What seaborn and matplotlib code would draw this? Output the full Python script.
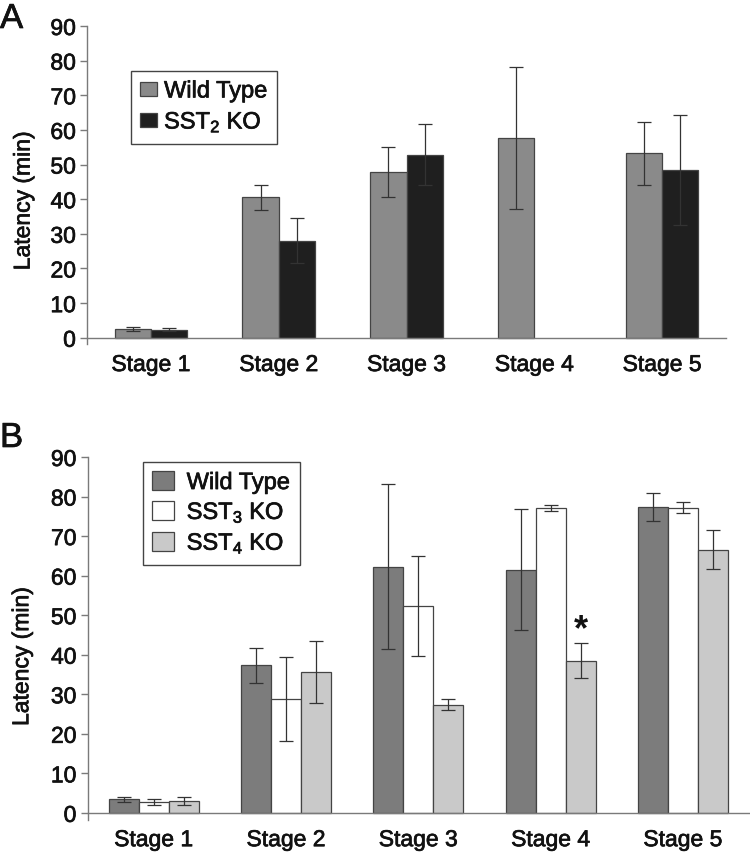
import numpy as np
import pandas as pd
import matplotlib
matplotlib.use("Agg")
import matplotlib.pyplot as plt
import matplotlib.patheffects as pe
import seaborn as sns

# ---------------- data ----------------
stages = ["Stage 1", "Stage 2", "Stage 3", "Stage 4", "Stage 5"]

# Panel A
a_groups = ["Wild Type", "SST$_2$ KO"]
a_wt_mean = [2.6, 40.5, 47.9, 57.8, 53.2]
a_wt_err = [0.6, 3.5, 7.2, 20.5, 9.2]
a_ko_mean = [2.3, 28.0, 52.8, np.nan, 48.4]
a_ko_err = [0.4, 6.5, 8.8, np.nan, 15.9]

# Panel B
b_groups = ["Wild Type", "SST$_3$ KO", "SST$_4$ KO"]
b_wt_mean = [3.4, 37.3, 62.3, 61.5, 77.3]
b_wt_err = [0.65, 4.4, 20.9, 15.3, 3.5]
b_sst3_mean = [2.7, 28.8, 52.3, 77.1, 77.2]
b_sst3_err = [0.7, 10.5, 12.6, 0.85, 1.45]
b_sst4_mean = [3.0, 35.6, 27.3, 38.5, 66.6]
b_sst4_err = [1.05, 7.75, 1.4, 4.45, 4.85]
b_significant = [False, False, False, True, False]  # SST4 KO vs WT

y_ticks = [0, 10, 20, 30, 40, 50, 60, 70, 80, 90]
y_label = "Latency (min)"

# ---------------- style ----------------
sns.set_style("white")
plt.rcParams["font.family"] = ["Liberation Sans", "DejaVu Sans"]
plt.rcParams["mathtext.fontset"] = "custom"
plt.rcParams["mathtext.rm"] = "Liberation Sans"
plt.rcParams["mathtext.it"] = "Liberation Sans"
plt.rcParams["mathtext.default"] = "regular"

fig = plt.figure(figsize=(7.5, 8.53), dpi=100)
W, H = 750, 853


def ax_rect(left, right, top, bottom):
    return [left / W, 1 - bottom / H, (right - left) / W, (bottom - top) / H]


axA = fig.add_axes(ax_rect(87, 726, 27, 345))
axB = fig.add_axes(ax_rect(87.5, 749, 458, 821))

edge = "#444444"
axis_col = "#7a7a7a"
txt_col = "#111111"
heavy = [pe.withStroke(linewidth=0.5, foreground=txt_col)]


def draw_panel(ax, groups, means, errs, colors, width):
    rows = []
    for g, m in zip(groups, means):
        for s, v in zip(stages, m):
            rows.append({"stage": s, "group": g, "value": v})
    df = pd.DataFrame(rows)
    sns.barplot(data=df, x="stage", y="value", hue="group", order=stages,
                hue_order=groups, palette=colors, errorbar=None, width=width,
                gap=0, edgecolor=edge, linewidth=0.9, ax=ax, legend=True)
    centers = []
    for cont, m, e in zip(ax.containers, means, errs):
        xs, ys, es = [], [], []
        cmap = {}
        for p in cont.patches:
            xc = p.get_x() + p.get_width() / 2
            i = int(round(xc))
            cmap[i] = xc
            if not np.isnan(m[i]):
                xs.append(xc)
                ys.append(m[i])
                es.append(e[i])
        centers.append(cmap)
        ax.errorbar(xs, ys, yerr=es, fmt="none", ecolor="#333333",
                    elinewidth=0.9, capsize=4.8, capthick=0.9, zorder=5)
    ax.set_ylim(-1.8, 90)
    ax.set_xlim(-0.5, 4.5)
    for s in ["top", "right"]:
        ax.spines[s].set_visible(False)
    ax.spines["bottom"].set_position(("data", 0))
    for s in ["left", "bottom"]:
        ax.spines[s].set_color(axis_col)
        ax.spines[s].set_linewidth(1.0)
    ax.set_yticks(y_ticks)
    ax.set_yticklabels([str(t) for t in y_ticks])
    ax.set_xticks(range(len(stages)))
    ax.set_xticklabels(stages)
    ax.set_xlabel("")
    ax.set_ylabel(y_label, fontsize=16.5, color=txt_col)
    ax.tick_params(axis="y", direction="out", length=5, width=1.0,
                   color=axis_col, pad=3, left=True, labelsize=16.5,
                   labelcolor=txt_col)
    ax.tick_params(axis="x", length=0, pad=11, bottom=True, labelsize=16.5,
                   labelcolor=txt_col)
    ax.yaxis.set_label_coords(-0.082, 0.45)
    for t in ax.get_xticklabels() + ax.get_yticklabels() + [ax.yaxis.label]:
        t.set_path_effects(heavy)
    return centers


cA = draw_panel(axA, a_groups, [a_wt_mean, a_ko_mean], [a_wt_err, a_ko_err],
                ["#8a8a8a", "#1f1f1f"], 0.567)
cB = draw_panel(axB, b_groups, [b_wt_mean, b_sst3_mean, b_sst4_mean],
                [b_wt_err, b_sst3_err, b_sst4_err],
                ["#7c7c7c", "#ffffff", "#c9c9c9"], 0.68)

# significance marker
for i, sig in enumerate(b_significant):
    if sig:
        axB.text(cB[2][i], b_sst4_mean[i] + b_sst4_err[i] + 3.5, "*",
                 ha="center", va="center", fontsize=26, fontweight="bold",
                 color="#111111")

# legends
axA.legend(loc="upper left", bbox_to_anchor=(131 / W, 1 - 72 / H),
           bbox_transform=fig.transFigure, fontsize=17, frameon=True,
           fancybox=False, edgecolor="#444444", framealpha=1,
           handlelength=0.7, handleheight=0.55, handletextpad=0.3,
           borderpad=0.4, labelspacing=0.3, borderaxespad=0)
axB.legend(loc="upper left", bbox_to_anchor=(143 / W, 1 - 463 / H),
           bbox_transform=fig.transFigure, fontsize=17, frameon=True,
           fancybox=False, edgecolor="#444444", framealpha=1,
           handlelength=0.9, handleheight=0.85, handletextpad=0.55,
           borderpad=0.4, labelspacing=0.25, borderaxespad=0)
for lg in [axA.get_legend(), axB.get_legend()]:
    lg.get_frame().set_linewidth(1.0)
    for t in lg.get_texts():
        t.set_color(txt_col)
        t.set_path_effects(heavy)

# panel letters
fig.text(0 / W, 1 - 3 / H, "A", fontsize=25, ha="left", va="top",
         color=txt_col, path_effects=heavy)
fig.text(0 / W, 1 - 422 / H, "B", fontsize=25, ha="left", va="top",
         color=txt_col, path_effects=heavy)

fig.savefig("out.png", dpi=100)
